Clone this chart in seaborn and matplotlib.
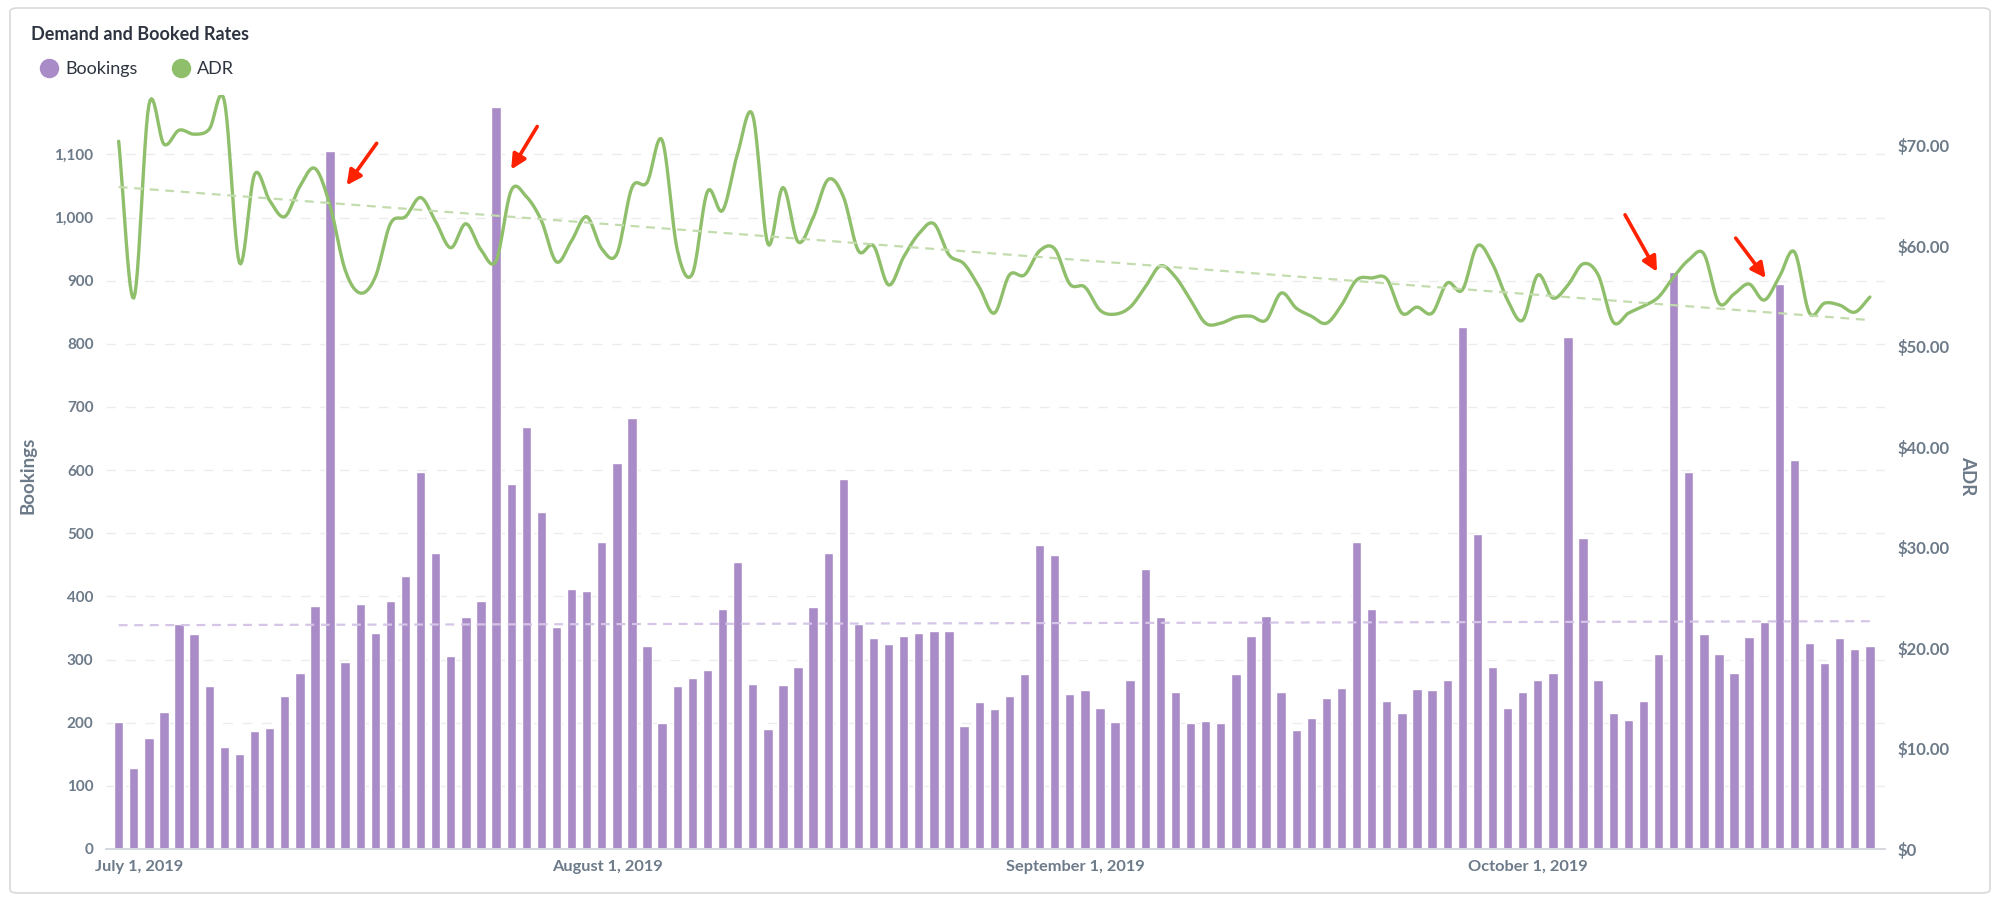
import numpy as np
import pandas as pd
import seaborn as sns
import matplotlib
matplotlib.use("Agg")
import matplotlib.pyplot as plt
from matplotlib.patches import FancyBboxPatch
from matplotlib.lines import Line2D
from matplotlib.ticker import FuncFormatter, MultipleLocator

# daily data, July 1 - Oct 25 2019
dates = pd.date_range("2019-07-01", "2019-10-25", freq="D")

bookings = [201, 128, 175, 217, 357, 340, 258, 161, 151, 187, 191, 243, 279, 385, 1105,
            296, 388, 342, 392, 432, 597, 469, 305, 367, 392, 1175, 578, 669, 533, 351,
            412, 408, 486, 611, 682, 321, 199, 258, 271, 283, 380, 455, 262, 190, 259,
            288, 383, 469, 586, 356, 334, 324, 338, 342, 345, 345, 195, 233, 222, 243,
            277, 481, 465, 246, 252, 224, 201, 268, 443, 368, 248, 199, 203, 199, 277,
            338, 369, 249, 188, 208, 239, 255, 486, 380, 234, 215, 254, 252, 268, 826,
            499, 288, 224, 248, 268, 279, 810, 493, 268, 215, 205, 234, 309, 914, 597,
            340, 309, 279, 336, 359, 895, 616, 326, 294, 334, 317, 321]

adr = [70.4, 54.8, 74.0, 70.1, 71.5, 71.1, 71.6, 74.4, 58.3, 67.1, 64.5, 62.9, 65.9, 67.7, 64.0,
       57.6, 55.3, 56.9, 62.2, 62.9, 64.8, 62.4, 59.8, 62.2, 59.6, 58.5, 65.5, 64.9, 62.5, 58.4,
       60.5, 62.9, 59.7, 59.2, 65.8, 66.3, 70.5, 59.6, 57.2, 65.4, 63.5, 69.2, 73.0, 60.2, 65.8,
       60.4, 62.8, 66.6, 64.9, 59.5, 60.0, 56.1, 58.9, 61.2, 62.2, 59.1, 58.2, 55.9, 53.3, 57.1,
       57.1, 59.5, 59.7, 56.2, 55.9, 53.6, 53.2, 53.9, 55.9, 58.0, 56.9, 54.6, 52.3, 52.3, 52.9,
       53.0, 52.6, 55.3, 53.8, 53.0, 52.3, 54.1, 56.6, 56.8, 56.7, 53.3, 53.9, 53.3, 56.3, 55.6,
       60.0, 58.2, 54.6, 52.6, 57.1, 54.8, 56.1, 58.2, 57.1, 52.4, 53.3, 54.0, 54.9, 56.9, 58.6,
       59.2, 54.3, 55.2, 56.2, 54.6, 56.9, 59.4, 53.3, 54.3, 54.1, 53.4, 54.9]

# days the red arrows point at
flagged_days = ["2019-07-15", "2019-07-26", "2019-10-12", "2019-10-19"]

BAR = "#a88bc7"
GREEN = "#8fbf6b"
SLATE = "#6c7a89"


def smooth(x, y, n=12):
    # cubic hermite through every point, only to draw the curve like a spline chart
    x = np.asarray(x, float)
    y = np.asarray(y, float)
    m = np.gradient(y, x)
    t = np.linspace(0, 1, n, endpoint=False)
    h00 = 2 * t**3 - 3 * t**2 + 1
    h10 = t**3 - 2 * t**2 + t
    h01 = -2 * t**3 + 3 * t**2
    h11 = t**3 - t**2
    xs, ys = [], []
    for i in range(len(x) - 1):
        dx = x[i + 1] - x[i]
        xs.append(x[i] + t * dx)
        ys.append(h00 * y[i] + h10 * dx * m[i] + h01 * y[i + 1] + h11 * dx * m[i + 1])
    xs.append([x[-1]])
    ys.append([y[-1]])
    return np.concatenate(xs), np.concatenate(ys)


sns.set_theme(style="white")
plt.rcParams["font.family"] = ["Lato", "DejaVu Sans"]

df = pd.DataFrame({"date": dates, "bookings": bookings, "adr": adr})
df["day"] = np.arange(len(df))

fig = plt.figure(figsize=(20, 9.02), dpi=100)
fig.patch.set_facecolor("white")
card = FancyBboxPatch((10 / 2000, 9 / 902), 1980 / 2000, 885 / 902,
                      boxstyle="round,pad=0,rounding_size=0.004",
                      transform=fig.transFigure, fc="white", ec="#d9d9d9", lw=1.2, zorder=-1)
fig.patches.append(card)

ax = fig.add_axes([106 / 2000, 53 / 902, 1779 / 2000, 754 / 902])
ax.set_facecolor("none")
ax2 = ax.twinx()

sns.barplot(data=df, x="day", y="bookings", ax=ax, color=BAR, saturation=1,
            width=0.62, native_scale=True, zorder=2)
sns.regplot(data=df, x="day", y="bookings", ax=ax, scatter=False, ci=None,
            line_kws=dict(color="#d5c5e6", lw=1.6, ls=(0, (4, 3)), zorder=3))

xs, ys = smooth(df["day"], df["adr"])
sns.lineplot(x=xs, y=ys, ax=ax2, color=GREEN, lw=2.4, estimator=None, sort=False)
sns.regplot(data=df, x="day", y="adr", ax=ax2, scatter=False, ci=None,
            line_kws=dict(color="#c3dcad", lw=1.6, ls=(0, (4, 3))))

ax.set_xlim(-0.84, 117.0)
ax.set_ylim(0, 1194)
ax2.set_ylim(0, 75)

ax.yaxis.set_major_locator(MultipleLocator(100))
ax.yaxis.set_major_formatter(FuncFormatter(lambda v, p: f"{int(v):,}"))
ax2.yaxis.set_major_locator(MultipleLocator(10))
ax2.yaxis.set_major_formatter(FuncFormatter(lambda v, p: "$0" if v == 0 else f"${v:.2f}"))

ax.grid(axis="y", color="#ececec", lw=1.0, ls=(0, (7, 7)))
ax.set_axisbelow(True)
ax2.grid(False)

# month labels sit a little to the right of the first day's bar
firsts = df[df["date"].dt.day == 1]
ax.set_xticks(firsts["day"] + 1.35)
ax.set_xticklabels([f"{d:%B} {d.day}, {d.year}" for d in firsts["date"]])

for a in (ax, ax2):
    for s in ("top", "left", "right"):
        a.spines[s].set_visible(False)
    a.spines["bottom"].set_color("#d5d8de")
    a.tick_params(length=0, labelcolor=SLATE)
ax.tick_params(axis="y", pad=9, labelsize=11)
ax2.tick_params(axis="y", pad=9, labelsize=12)
ax.tick_params(axis="x", pad=8, labelsize=11.8)
for lab in ax.get_xticklabels() + ax.get_yticklabels() + ax2.get_yticklabels():
    lab.set_fontweight("bold")

ax.set_xlabel("")
ax.set_ylabel("Bookings", fontsize=13.5, fontweight="bold", color=SLATE)
ax.yaxis.set_label_coords(-0.0388, 0.495)
ax2.set_ylabel("ADR", fontsize=13.5, fontweight="bold", color=SLATE, rotation=270, va="center")
ax2.yaxis.set_label_coords(1.0467, 0.495)

# red arrows next to the flagged spikes
offsets = [((1.1, -54), (30, 42)), ((1.0, -99), (26, 43)),
           ((-1.1, 0), (-32, 57)), ((-0.9, 9), (-30, 40))]
for day, ((dx, dy), (tx, ty)) in zip(flagged_days, offsets):
    row = df[df["date"] == pd.Timestamp(day)].iloc[0]
    ax.annotate("", xy=(row["day"] + dx, row["bookings"] + dy), xycoords="data",
                xytext=(tx, ty), textcoords="offset pixels",
                arrowprops=dict(arrowstyle="-|>", color="#ff2200", lw=2.6,
                                mutation_scale=22, shrinkA=0, shrinkB=0),
                zorder=10)

fig.text(31 / 2000, 1 - 34 / 902, "Demand and Booked Rates", fontsize=13,
         fontweight="bold", color="#2e3440", va="center")
handles = [Line2D([], [], ls="", marker="o", ms=13, color=BAR, label="Bookings"),
           Line2D([], [], ls="", marker="o", ms=13, color=GREEN, label="ADR")]
fig.legend(handles=handles, loc="center left", bbox_to_anchor=(22 / 2000, 1 - 69 / 902),
           ncol=2, frameon=False, fontsize=13, handletextpad=0.3, columnspacing=1.8,
           labelcolor="#2e3440", handlelength=1.2)

fig.savefig("out.png", dpi=100, facecolor="white")
